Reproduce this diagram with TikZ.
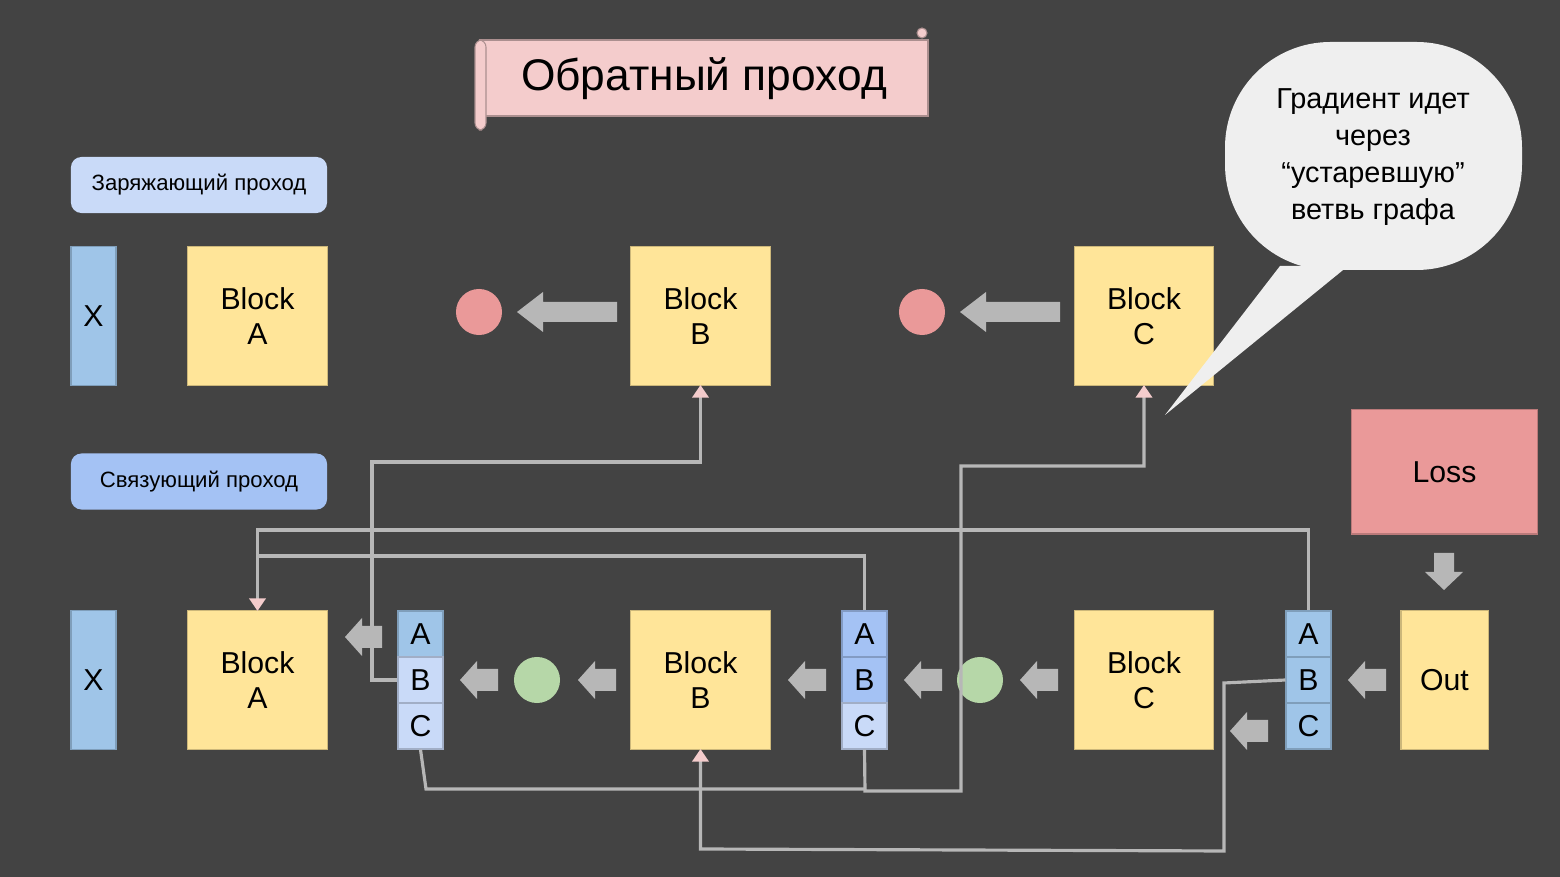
\documentclass[tikz,border=0pt]{standalone}
\usepackage{fontspec}
\setmainfont{Liberation Sans}
\usetikzlibrary{arrows.meta}
\definecolor{bg}{HTML}{434343}
\definecolor{yel}{HTML}{FFE599}
\definecolor{bl1}{HTML}{9FC5E8}
\definecolor{bl2}{HTML}{A4C2F4}
\definecolor{bl3}{HTML}{C9DAF8}
\definecolor{pinkc}{HTML}{F4CCCC}
\definecolor{redc}{HTML}{EA9999}
\definecolor{grn}{HTML}{B6D7A8}
\definecolor{arrowc}{HTML}{B7B7B7}
\definecolor{wirec}{HTML}{B7B7B7}
\definecolor{bub}{HTML}{EFEFEF}
\newcommand\arrL[6]{\fill[arrowc] (#1,#2) -- ++(#6,#5) -- ++(0,{#4-#5}) -- ({#1+#3},{#2+#4}) -- ++(0,{-2*#4}) -- ({#1+#6},{#2-#4}) -- ++(0,{#4-#5}) -- cycle;}
\tikzset{
  box/.style={inner sep=0pt, align=center, font=\fontsize{8.6pt}{10pt}\selectfont, draw=#1!80!black, line width=0.3pt, fill=#1},
  blockbox/.style={box=yel, minimum width=1.39cm, minimum height=1.38cm},
  xbox/.style={box=bl1, minimum width=0.45cm, minimum height=1.38cm},
  cell/.style={box=#1, minimum width=0.45cm, minimum height=0.46cm},
  label/.style={rounded corners=3pt, inner sep=0pt, minimum width=2.56cm, minimum height=0.56cm, fill=#1, font=\fontsize{6.3pt}{7.5pt}\selectfont},
  dot/.style={circle, fill=#1, minimum size=0.46cm, inner sep=0pt},
  wire/.style={draw=wirec, line width=0.9pt},
  tip/.style={-{Triangle[length=3.6pt,width=4.6pt,color=pinkc]}},
}
\begin{document}
\begin{tikzpicture}[x=0.01cm,y=-0.01cm]
\fill[bg] (0,0) rectangle (1560,877);
\useasboundingbox (0,0) rectangle (1560,877);
% title scroll
\fill[pinkc, draw=pinkc!70!black, line width=0.3pt] (480,40) rectangle (928,116);
\fill[pinkc, draw=pinkc!70!black, line width=0.3pt, rounded corners=2pt] (475,40) rectangle (486,130);
\fill[pinkc, draw=pinkc!70!black, line width=0.3pt] (922,33) circle (5);
\node (title) at (704,79) {\fontsize{12.6pt}{14pt}\selectfont Обратный проход};
% labels
\node[label=bl3] (l1) at (199,185) {Заряжающий проход};
\node[label=bl2] (l2) at (199,481.5) {Связующий проход};
% top row
\node[xbox] (tX) at (93.5,316) {X};
\node[blockbox] (tA) at (257.5,316) {Block\\A};
\node[blockbox] (tB) at (700.5,316) {Block\\B};
\node[blockbox] (tC) at (1144,316) {Block\\C};
\node[dot=redc] (r1) at (479,312) {};
\node[dot=redc] (r2) at (922,312) {};
\arrL{517}{312}{100}{10}{20}{26}
\arrL{960}{312}{100}{10}{20}{26}
% speech bubble
\fill[bub] (1225,42) [rounded corners=30pt] rectangle (1522,270);
\fill[bub] (1280,266) -- (1165,415) -- (1348,266) -- cycle;
\node[align=center, font=\fontsize{8.2pt}{10.6pt}\selectfont] (bt) at (1373,157) {Градиент идет\\через\\“устаревшую”\\ветвь графа};
% loss
\node[box=redc, minimum width=1.85cm, minimum height=1.24cm] (loss) at (1444.5,472) {Loss};
\fill[arrowc] (1444,590) -- (1425,572) -- (1434,572) -- (1434,553) -- (1454,553) -- (1454,572) -- (1463,572) -- cycle;
% bottom row
\node[xbox] (bX) at (93.5,680) {X};
\node[blockbox] (bA) at (257.5,680) {Block\\A};
\node[blockbox] (bB) at (700.5,680) {Block\\B};
\node[blockbox] (bC) at (1144,680) {Block\\C};
\node[box=yel, minimum width=0.87cm, minimum height=1.38cm] (out) at (1444.5,680) {Out};
\node[cell=bl1] (s1a) at (420.5,634) {A};
\node[cell=bl3] (s1b) at (420.5,680) {B};
\node[cell=bl3] (s1c) at (420.5,726) {C};
\node[cell=bl2] (s2a) at (864.5,634) {A};
\node[cell=bl2] (s2b) at (864.5,680) {B};
\node[cell=bl3] (s2c) at (864.5,726) {C};
\node[cell=bl1] (s3a) at (1308.5,634) {A};
\node[cell=bl1] (s3b) at (1308.5,680) {B};
\node[cell=bl1] (s3c) at (1308.5,726) {C};
\node[dot=grn] (g1) at (537,680) {};
\node[dot=grn] (g2) at (980,680) {};
\arrL{460}{680}{38}{11}{19}{17}
\arrL{578}{680}{38}{11}{19}{17}
\arrL{788}{680}{38}{11}{19}{17}
\arrL{904}{680}{38}{11}{19}{17}
\arrL{1020}{680}{38}{11}{19}{17}
\arrL{1348}{680}{38}{11}{19}{17}
\arrL{345}{637}{37}{11}{19}{17}
\arrL{1230}{731}{38}{11}{19}{17}
% wires
\coordinate (tBb) at (700.5,385);
\coordinate (tCb) at (1144,385);
\coordinate (bAt) at (257.5,611);
\coordinate (bBb) at (700.5,749);
\draw[wire, tip] (s1b.west) -- (372,680) -- (372,462) -- (700.5,462) -- (tBb);
\draw[wire] (s1c.south) -- (426,789) -- (865,789);
\draw[wire, tip] (s2c.south) -- (865,791) -- (961,791) -- (961,466) -- (1144,466) -- (tCb);
\draw[wire, tip] (s2a.north) -- (864.5,556) -- (257.5,556) -- (bAt);
\draw[wire] (s3a.north) -- (1308.5,530) -- (257.5,530) -- (257.5,556);
\draw[wire, tip] (s3b.west) -- (1224,683) -- (1224,851) -- (700.5,849) -- (bBb);
\end{tikzpicture}
\end{document}
